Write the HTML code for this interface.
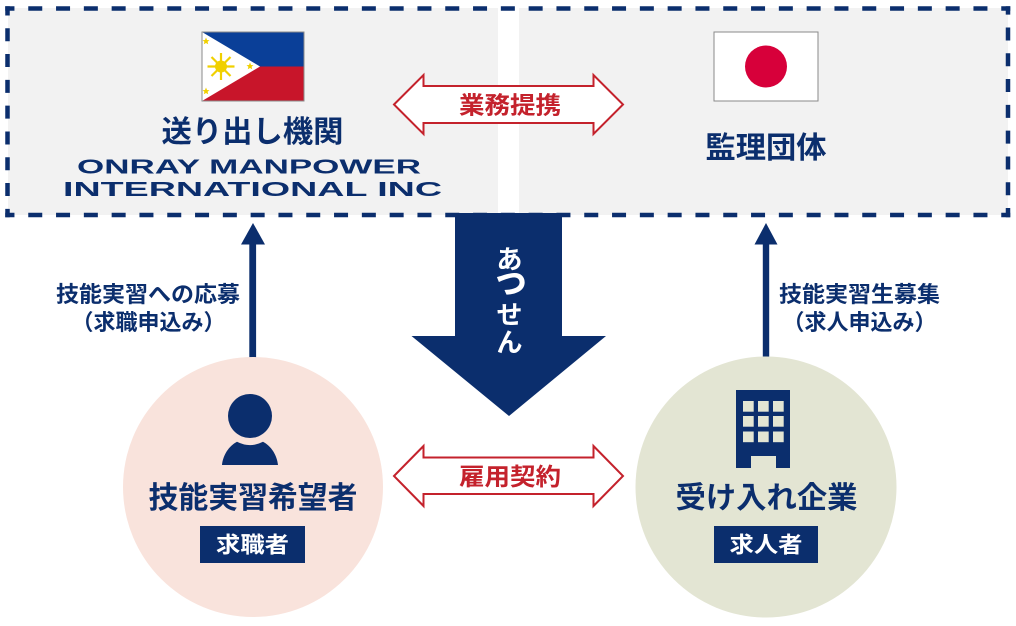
<!DOCTYPE html>
<html>
<head>
<meta charset="utf-8">
<style>
  html,body{margin:0;padding:0;background:#ffffff;}
  body{width:1016px;height:626px;overflow:hidden;}
  svg{display:block;}
  .jp{font-family:"Liberation Sans","Noto Sans CJK JP",sans-serif;font-weight:bold;}
  .en{font-family:"Liberation Sans",sans-serif;font-weight:bold;}
</style>
</head>
<body>
<svg width="1016" height="626" viewBox="0 0 1016 626" xmlns="http://www.w3.org/2000/svg">
  <!-- gray panels -->
  <rect x="8" y="8" width="490" height="207" fill="#f2f2f2"/>
  <rect x="519" y="8" width="489" height="207" fill="#f2f2f2"/>

  <!-- dashed border -->
  <g stroke="#0b2e6d" stroke-width="4.5" fill="none">
    <line x1="5.25" y1="8.5" x2="1010.25" y2="8.5" stroke-dasharray="14 13.8" stroke-dashoffset="4.8"/>
    <line x1="5.25" y1="215" x2="1010.25" y2="215" stroke-dasharray="14 13.8" stroke-dashoffset="4.8"/>
    <line x1="7.5" y1="6.25" x2="7.5" y2="217.25" stroke-dasharray="13 12.8" stroke-dashoffset="3.8"/>
    <line x1="1008" y1="217.25" x2="1008" y2="6.25" stroke-dasharray="13 12.8" stroke-dashoffset="3.8"/>
  </g>

  <!-- Philippine flag -->
  <g>
    <rect x="202" y="32" width="102" height="34.5" fill="#0a3f98"/>
    <rect x="202" y="66.5" width="102" height="34.5" fill="#c8152a"/>
    <polygon points="202,32 260,66.5 202,101" fill="#ffffff"/>
    <g fill="#f0d000" stroke="#f0d000">
      <circle cx="221" cy="66.5" r="6" stroke="none"/>
      <g stroke-width="2.2">
        <line x1="221" y1="53" x2="221" y2="80"/>
        <line x1="207.5" y1="66.5" x2="234.5" y2="66.5"/>
        <line x1="211.5" y1="57" x2="230.5" y2="76"/>
        <line x1="211.5" y1="76" x2="230.5" y2="57"/>
      </g>
      <polygon stroke="none" points="206,37.5 207,40 209.5,40.2 207.6,41.8 208.2,44.3 206,43 203.8,44.3 204.4,41.8 202.5,40.2 205,40"/>
      <polygon stroke="none" points="250,62.5 251,65 253.5,65.2 251.6,66.8 252.2,69.3 250,68 247.8,69.3 248.4,66.8 246.5,65.2 249,65"/>
      <polygon stroke="none" points="206,87.5 207,90 209.5,90.2 207.6,91.8 208.2,94.3 206,93 203.8,94.3 204.4,91.8 202.5,90.2 205,90"/>
    </g>
    <rect x="202" y="32" width="102" height="69" fill="none" stroke="#8a8a8a" stroke-width="1"/>
  </g>

  <!-- Japan flag -->
  <rect x="714" y="32" width="104" height="69" fill="#ffffff" stroke="#8a8a8a" stroke-width="1"/>
  <circle cx="766" cy="66.5" r="21" fill="#d7003a"/>

  <!-- left panel texts -->
  <text class="jp" x="252.5" y="142" font-size="30" fill="#0b2e6d" text-anchor="middle" textLength="182" lengthAdjust="spacingAndGlyphs">送り出し機関</text>
  <text class="en" x="77" y="173.5" font-size="20" fill="#0b2e6d" textLength="344" lengthAdjust="spacingAndGlyphs">ONRAY MANPOWER</text>
  <text class="en" x="63" y="196" font-size="20" fill="#0b2e6d" textLength="379" lengthAdjust="spacingAndGlyphs">INTERNATIONAL INC</text>

  <!-- right panel text -->
  <text class="jp" x="766" y="158" font-size="30" fill="#0b2e6d" text-anchor="middle" textLength="121" lengthAdjust="spacingAndGlyphs">監理団体</text>

  <!-- top double arrow -->
  <path d="M394,104.5 L423.5,75 L423.5,86 L593.5,86 L593.5,75 L623,104.5 L593.5,134 L593.5,123 L423.5,123 L423.5,134 Z" fill="#ffffff" stroke="#c4222c" stroke-width="2"/>
  <text class="jp" x="510" y="113.5" font-size="24" fill="#c4222c" text-anchor="middle" textLength="102" lengthAdjust="spacingAndGlyphs">業務提携</text>

  <!-- big down arrow -->
  <path d="M455,213 L562,213 L562,336 L606,336 L509,416 L411.5,336 L455,336 Z" fill="#0b2e6d"/>
  <g class="jp" fill="#ffffff" text-anchor="middle">
    <text x="509.5" y="268.5" font-size="26">あ</text>
    <text x="510.5" y="293" font-size="38">っ</text>
    <text x="509.5" y="324" font-size="26">せ</text>
    <text x="509.5" y="351.5" font-size="26">ん</text>
  </g>

  <!-- up arrows -->
  <rect x="249.3" y="243" width="6.8" height="115" fill="#0b2e6d"/>
  <polygon points="253,223 265,244.5 241,244.5" fill="#0b2e6d"/>
  <rect x="762.8" y="243" width="6.4" height="115" fill="#0b2e6d"/>
  <polygon points="766,223 777.5,244.5 754.5,244.5" fill="#0b2e6d"/>

  <!-- side labels -->
  <text class="jp" x="148" y="302" font-size="22" fill="#0b2e6d" text-anchor="middle" textLength="184" lengthAdjust="spacingAndGlyphs">技能実習への応募</text>
  <text class="jp" x="148.5" y="330" font-size="22" fill="#0b2e6d" text-anchor="middle">（求職申込み）</text>
  <text class="jp" x="859.5" y="302" font-size="22" fill="#0b2e6d" text-anchor="middle" textLength="161" lengthAdjust="spacingAndGlyphs">技能実習生募集</text>
  <text class="jp" x="859.5" y="330" font-size="22" fill="#0b2e6d" text-anchor="middle">（求人申込み）</text>

  <!-- circles -->
  <circle cx="253" cy="487" r="130" fill="#f9e3dc"/>
  <circle cx="766" cy="487" r="130.5" fill="#e3e5d3"/>

  <!-- person icon -->
  <circle cx="250" cy="416" r="22" fill="#0b2e6d"/>
  <path d="M222,465 C223,455 229,446 237,441.8 Q250,448.5 263,441.8 C271,446 277,455 278,465 Z" fill="#0b2e6d"/>

  <!-- building icon -->
  <rect x="736" y="390" width="54" height="78" fill="#0b2e6d"/>
  <g fill="#e3e5d3">
    <rect x="743" y="401" width="10.7" height="10.7"/>
    <rect x="758" y="401" width="10.7" height="10.7"/>
    <rect x="773" y="401" width="10.7" height="10.7"/>
    <rect x="743" y="416" width="10.7" height="10.7"/>
    <rect x="758" y="416" width="10.7" height="10.7"/>
    <rect x="773" y="416" width="10.7" height="10.7"/>
    <rect x="743" y="431.5" width="10.7" height="10.7"/>
    <rect x="758" y="431.5" width="10.7" height="10.7"/>
    <rect x="773" y="431.5" width="10.7" height="10.7"/>
    <rect x="751" y="456" width="25" height="12"/>
  </g>

  <!-- bottom double arrow -->
  <path d="M394,476 L423.5,446 L423.5,457.5 L593.5,457.5 L593.5,446 L623,476 L593.5,506 L593.5,494 L423.5,494 L423.5,506 Z" fill="#ffffff" stroke="#c4222c" stroke-width="2"/>
  <text class="jp" x="510" y="485" font-size="24" fill="#c4222c" text-anchor="middle" textLength="102" lengthAdjust="spacingAndGlyphs">雇用契約</text>

  <!-- circle labels -->
  <text class="jp" x="253" y="508" font-size="30" fill="#0b2e6d" text-anchor="middle" textLength="209" lengthAdjust="spacingAndGlyphs">技能実習希望者</text>
  <text class="jp" x="766.5" y="508" font-size="30" fill="#0b2e6d" text-anchor="middle" textLength="182" lengthAdjust="spacingAndGlyphs">受け入れ企業</text>

  <rect x="200" y="526" width="105" height="37" fill="#0b2e6d"/>
  <text class="jp" x="252.5" y="552.5" font-size="22" fill="#ffffff" text-anchor="middle" textLength="73" lengthAdjust="spacingAndGlyphs">求職者</text>
  <rect x="714" y="526" width="104" height="37" fill="#0b2e6d"/>
  <text class="jp" x="766" y="552.5" font-size="22" fill="#ffffff" text-anchor="middle" textLength="73" lengthAdjust="spacingAndGlyphs">求人者</text>
</svg>
</body>
</html>
